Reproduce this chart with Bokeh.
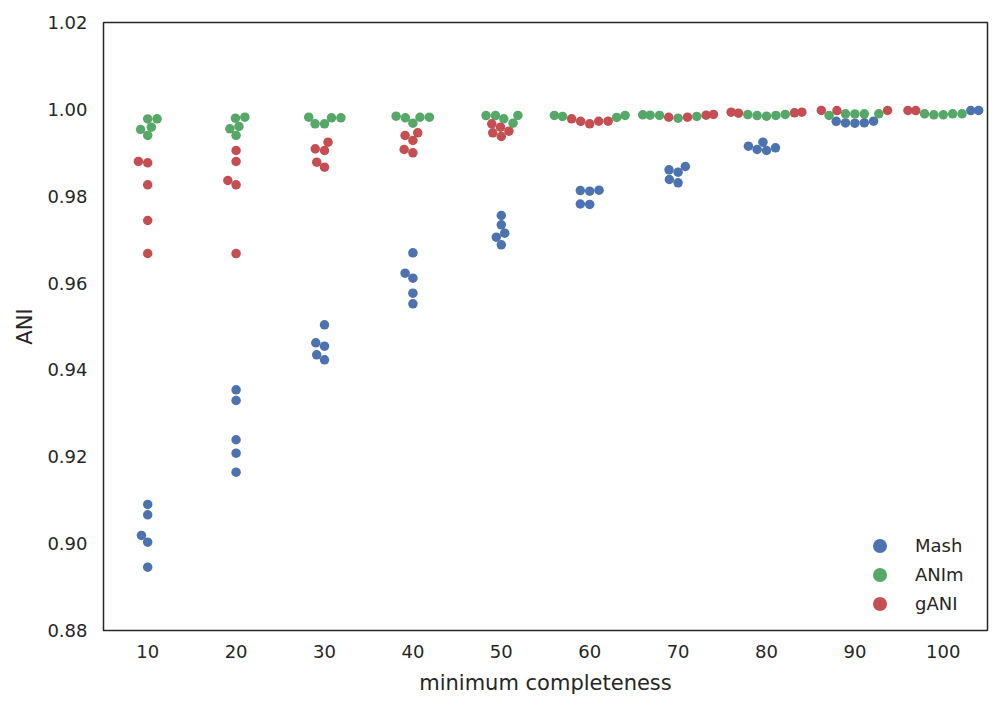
import numpy as np
from bokeh.plotting import figure
from bokeh.models import ColumnDataSource, FixedTicker, Legend, LegendItem, PrintfTickFormatter
from bokeh.embed import file_html
from bokeh.resources import INLINE

categories = ["10", "20", "30", "40", "50", "60", "70", "80", "90", "100"]
methods = ["Mash", "ANIm", "gANI"]
colors = ["#4C72B0", "#55A868", "#C44E52"]
y_ticks = [0.88, 0.90, 0.92, 0.94, 0.96, 0.98, 1.00, 1.02]

mash = [
    [0.90902, 0.90664, 0.90188, 0.90034, 0.89458],
    [0.93543, 0.93296, 0.92392, 0.92083, 0.91645],
    [0.95039, 0.94625, 0.94547, 0.94349, 0.94234],
    [0.96697, 0.96227, 0.96112, 0.95767, 0.95523],
    [0.97556, 0.97341, 0.97148, 0.97056, 0.96881],
    [0.98130, 0.98115, 0.98140, 0.97821, 0.97810],
    [0.98684, 0.98608, 0.98553, 0.98385, 0.98309],
    [0.99244, 0.99152, 0.99115, 0.99076, 0.99053],
    [0.99727, 0.99725, 0.99690, 0.99688, 0.99682],
    [0.99973, 0.99975],
]
anim = [
    [0.99782, 0.99780, 0.99590, 0.99536, 0.99400],
    [0.99820, 0.99797, 0.99605, 0.99552, 0.99398],
    [0.99820, 0.99806, 0.99804, 0.99668, 0.99666],
    [0.99843, 0.99820, 0.99818, 0.99806, 0.99682],
    [0.99859, 0.99858, 0.99857, 0.99782, 0.99682],
    [0.99860, 0.99859, 0.99836, 0.99813],
    [0.99875, 0.99866, 0.99859, 0.99836, 0.99797],
    [0.99882, 0.99880, 0.99859, 0.99857, 0.99843],
    [0.99898, 0.99897, 0.99896, 0.99895, 0.99859],
    [0.99898, 0.99897, 0.99896, 0.99875, 0.99874],
]
gani = [
    [0.98800, 0.98770, 0.98263, 0.97441, 0.96681],
    [0.99053, 0.98799, 0.98362, 0.98263, 0.96680],
    [0.99244, 0.99092, 0.99053, 0.98784, 0.98668],
    [0.99460, 0.99398, 0.99283, 0.99076, 0.99000],
    [0.99667, 0.99589, 0.99497, 0.99460, 0.99375],
    [0.99782, 0.99727, 0.99726, 0.99725, 0.99667],
    [0.99882, 0.99866, 0.99820, 0.99818],
    [0.99935, 0.99934, 0.99921, 0.99913],
    [0.99975, 0.99974, 0.99973],
    [0.99972, 0.99974],
]
series = [mash, anim, gani]

# layout
FW, FH = 884, 608
Y0, Y1 = 0.88, 1.02
PX_X = FW / 10.0
PX_Y = FH / (Y1 - Y0)
R = 4.48            # swarm radius (px)
HALF_W = 0.4        # gutter (data units)


def beeswarm(ys_px, r):
    order = np.argsort(ys_px, kind="stable")
    pts = []
    out = np.zeros(len(ys_px))
    for idx in order:
        y = ys_px[idx]
        neigh = [(xj, yj) for (xj, yj) in pts if abs(y - yj) < 2 * r]
        cands = [0.0]
        left_first = True
        for xj, yj in neigh:
            dy = y - yj
            dx = np.sqrt(max(4 * r * r - dy * dy, 0.0)) * 1.05
            cl, cr = xj - dx, xj + dx
            cands += [cl, cr] if left_first else [cr, cl]
            left_first = not left_first
        cands = sorted(cands, key=abs)
        chosen = cands[0]
        for c in cands:
            if all((c - xj) ** 2 + (y - yj) ** 2 >= (2 * r) ** 2 - 1e-9 for xj, yj in neigh):
                chosen = c
                break
        pts.append((chosen, y))
        out[idx] = chosen
    return out


data = {m: {"x": [], "y": []} for m in methods}
for ci in range(len(categories)):
    vals, labs = [], []
    for m, s in zip(methods, series):
        for v in s[ci]:
            vals.append(v)
            labs.append(m)
    vals = np.array(vals)
    offs = beeswarm(vals * PX_Y, R) / PX_X
    offs = np.clip(offs, -HALF_W, HALF_W)
    for v, o, l in zip(vals, offs, labs):
        data[l]["x"].append(ci + o)
        data[l]["y"].append(v)

TXT = "#262626"
FONT = "DejaVu Sans"

p = figure(frame_width=FW, frame_height=FH, x_range=(-0.5, 9.5), y_range=(Y0, Y1),
           output_backend="svg", toolbar_location=None,
           min_border_left=103, min_border_right=5, min_border_top=22, min_border_bottom=70)
p.xgrid.visible = False
p.ygrid.visible = False
p.outline_line_color = TXT
p.outline_line_width = 1.5
p.outline_line_alpha = 1.0
p.background_fill_color = "white"

p.xaxis.ticker = FixedTicker(ticks=list(range(len(categories))))
p.xaxis.major_label_overrides = {i: c for i, c in enumerate(categories)}
p.yaxis.ticker = FixedTicker(ticks=y_ticks)
p.yaxis.formatter = PrintfTickFormatter(format="%.2f")
for ax in (p.xaxis[0], p.yaxis[0]):
    ax.axis_line_color = None
    ax.major_tick_line_color = None
    ax.minor_tick_line_color = None
    ax.major_label_text_font = FONT
    ax.major_label_text_font_size = "18px"
    ax.major_label_text_color = TXT
    ax.axis_label_text_font = FONT
    ax.axis_label_text_font_size = "21px"
    ax.axis_label_text_font_style = "normal"
    ax.axis_label_text_color = TXT
p.xaxis.axis_label = "minimum completeness"
p.yaxis.axis_label = "ANI"
p.xaxis.major_label_standoff = 8
p.xaxis.axis_label_standoff = 10
p.yaxis.major_label_standoff = 10
p.yaxis.axis_label_standoff = 7

for k, (m, c) in enumerate(zip(methods, colors)):
    src = ColumnDataSource(data[m])
    r = p.scatter("x", "y", source=src, size=9.5, fill_color=c, line_color=None)
    lg = Legend(items=[LegendItem(label=m, renderers=[r])],
                location=(759, 9.5 + 29 * (len(methods) - 1 - k)),
                glyph_width=35, glyph_height=35, padding=0, margin=0, label_standoff=18,
                label_text_font=FONT, label_text_font_size="18px", label_text_color=TXT,
                border_line_color=None, background_fill_alpha=0)
    p.add_layout(lg)

open("out.html", "w").write(file_html(p, INLINE))
